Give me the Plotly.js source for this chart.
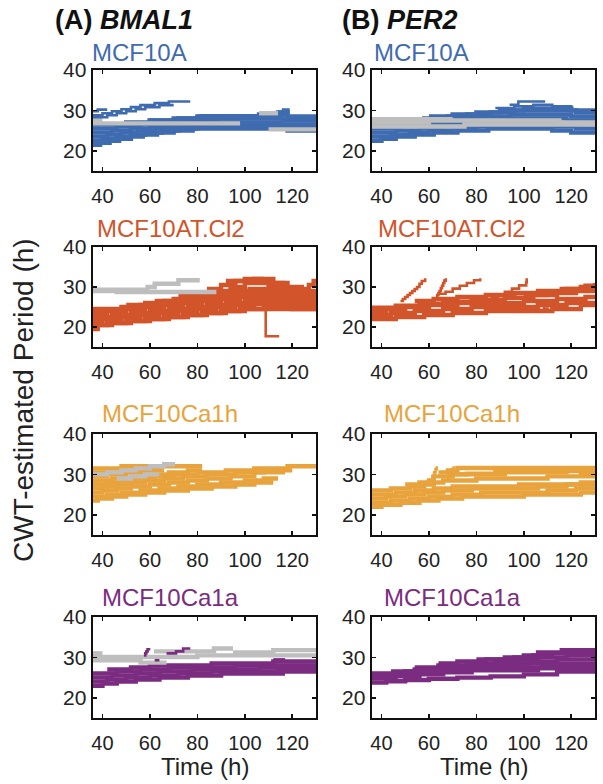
<!DOCTYPE html>
<html>
<head>
<meta charset="utf-8">
<script src="https://cdn.plot.ly/plotly-3.0.1.min.js"></script>
<style>html,body{margin:0;padding:0;background:#fff}#chart{width:603px;height:784px}</style>
</head>
<body>
<div id="chart"></div>
<script>
// ---------------- DATA (time in h, CWT-estimated period in h) ----------------
const genes = ["BMAL1", "PER2"];
const cellLines = ["MCF10A", "MCF10AT.Cl2", "MCF10Ca1h", "MCF10Ca1a"];
const xTicks = [40, 60, 80, 100, 120];
const yTicks = [20, 30, 40];

// BMAL1 - MCF10A
const A1_t = [
  [36,39,43,47,52,57,63,70,78,108,118,130],
  [36,40,46,52,58,65,72,80,110,120,130],
  [36,42,48,55,62,70,78,90,112,130],
  [36,44,52,60,68,76,85,100,115,130],
  [36,46,56,66,76,88,100,116,130],
  [36,50,60,72,82,95,108,118,130],
  [59,70,80,95,106,114,118,130],
  [80,100,110,115,116.5,118]
];
const A1_p = [
  [21.5,22,22.5,23,23.5,24,24.5,25,25.5,25.5,25,25],
  [22.5,23,23.5,24,24.5,25,25.5,26,26,25.5,25.5],
  [23.5,24,24.5,25,25.5,26,26.5,26.5,26,26],
  [24.5,25,25.5,26,26.5,27,27,27,26.5,26.5],
  [25.5,26,26.5,27,27.5,28,28,27.5,27],
  [26.5,27,27.5,28,28.5,28.5,29,28,27.5],
  [27.5,28,28.5,28.5,29,29.5,28.5,28],
  [28.5,28.5,29,29.5,30,29.5]
];
const A1g_t = [[36,98],[106,114],[110,124,130],[36,40]];
const A1g_p = [[26.8,26.8],[29.3,29.3],[25.3,25.3,25.3],[27.6,27.6]];
const A1x_t = [[36,40,44,48,52,56,62,68,77],[36,42,46,50,54,58,64,70],[36,38,42]];
const A1x_p = [[28.8,29.3,29.8,30.3,30.8,31.3,31.8,32.2,32.2],[28.3,28.8,29.3,29.8,30.3,30.8,31.3,31.3],[29.8,30.2,30.2]];

// PER2 - MCF10A
const B1_t = [
  [36,40,46,54,62,72,85,100,112,120,130],
  [36,44,52,60,70,80,95,110,122,130],
  [36,46,56,66,76,88,100,115,130],
  [36,48,58,68,78,90,102,118,130],
  [36,50,62,72,82,94,106,120,130],
  [49,58,68,76,86,96,108,122,130],
  [60,70,80,90,100,110,120,130]
];
const B1_p = [
  [22.5,23,23.5,24,24.5,25,25.5,25.5,25,24.5,24],
  [23.5,24,24.5,25,25.5,26,26,26,25.5,25],
  [24.5,25,25.5,26,26.5,27,27,26.5,26.5],
  [25.5,26,26.5,27,27.5,28,28,27.5,27.5],
  [26.5,27,27.5,28,28.5,29,29,28.5,28],
  [27.5,28,28.5,29,29.5,30,30,29.5,29],
  [28.5,29,29.5,30,30.5,30.5,30,29.5]
];
const B1g_t = [[36,55,75,100,130],[36,60,90,115,130],[36,50,70]];
const B1g_p = [[26,26,26.5,26.5,26.5],[27,27.5,27.5,27,27],[27.8,27.8,27.8]];
const B1x_t = [[94,97.7,109],[88,96,104,112,120]];
const B1x_p = [[31.4,32.2,32.2],[30.6,31,31.4,31,30.6]];

// BMAL1 - MCF10AT.Cl2
const A2_t = [
  [36,38,44,52,60,68,76,84,92,100,130],
  [36,42,50,58,66,74,82,90,98,108,120,130],
  [36,40,48,56,64,72,80,88,96,104,114,130],
  [36,44,52,60,68,76,84,92,100,110,120,130],
  [36,42,50,58,66,74,82,90,98,106,118,130],
  [36,48,56,64,72,80,88,96,104,112,122,130],
  [50,58,66,74,82,90,98,106,114,124,130],
  [62,70,78,86,94,102,110,118,130],
  [72,80,88,94,100,108,116,124],
  [84,90,96,104,112,118],
  [92,100,108],
  [118,122,125,127,129,130]
];
const A2_p = [
  [19.5,20.5,21,21.5,22,22.5,23,23.5,24,24.5,24.5],
  [20.5,21,21.5,22,22.5,23,23.5,24,24.5,25,24.5,24.5],
  [21.5,22,22.5,23,23.5,24,24.5,25,25.5,26,25.5,25.5],
  [22.5,23,23.5,24,24.5,25,25.5,26,26.5,26.5,26,26],
  [23.5,24,24.5,25,25.5,26,26.5,27,27.5,27.5,27,27],
  [24.5,25,25.5,26,26.5,27,27.5,28,28.5,28.5,28,28],
  [25.5,26,26.5,27,27.5,28,28.5,29,29,28,27.5],
  [26.5,27,27.5,28,29,29.5,30,29,28],
  [28,28.5,29,30,31,31,30,29],
  [29.5,30.5,31.5,32,31,30.5],
  [31.5,32,32],
  [28,28.5,29.5,30.5,31.5,31.5]
];
const A2g_t = [[36,59,62,72,81],[36,46,88]];
const A2g_p = [[29.3,30,30.8,31.7,31.7],[29,28.75,28.75]];
const A2x_t = [[100,108.8,108.8,114.5]];
const A2x_p = [[25.5,25.5,17.7,17.7]];

// PER2 - MCF10AT.Cl2
const B2_t = [
  [36,46,58,70,84,98,112,124,130],
  [36,44,54,66,78,92,106,118,130],
  [36,42,50,60,72,86,100,114,126,130],
  [36,46,56,66,78,92,104,114,122,130],
  [54,62,72,84,96,106,116,124,130],
  [100,110,118,126,130]
];
const B2_p = [
  [22,22.5,23,23.5,24,24,24.5,25.5,25.5],
  [23,23.5,24,24.5,25,25,25.5,26,26.5],
  [24,24.5,25,25.5,26,26,26.5,27,27.5,27.5],
  [24.8,25.3,25.8,26.3,26.8,27.3,28,28.5,29,29],
  [26.5,27,27.5,28,28.5,29,29.5,30,30.5],
  [28,28.8,29.5,30.3,31]
];
const B2g_t = [];
const B2g_p = [];
const B2x_t = [
  [48,49,50,51,52,53,54,55,56,57,58.4],
  [63,63.5,64,64.5,65,65.5,66,66.5,67.1],
  [64,67,70,73,76,79,81.6],
  [86,89,92,95,98,101,101.2],
  [105,107,108.5,110]
];
const B2x_p = [
  [26.5,27,27.5,28,28.5,29,29.5,30,30.8,31.5,32.2],
  [27.5,28,28.5,29,29.7,30.3,31,31.6,32.2],
  [28.3,28.8,29.6,30.3,31,31.7,32.2],
  [27.2,28,28.8,29.6,30.4,31.2,32.2],
  [26,25.3,24.6,24.2]
];

// BMAL1 - MCF10Ca1h
const A3_t = [
  [36,38,44,50,58,66,76,86,96,104,112],
  [36,42,48,56,64,72,80,90,100,108,114],
  [36,40,46,52,60,68,76,84,94,104,117],
  [36,40,46,52,58,66,74,84,96,108,120],
  [36,42,48,54,62,70,80,92,104,118,130],
  [36,44,52,60,68,76,82],
  [36,42,50,58,66],
  [36,46,56,64],
  [36,48,60,82]
];
const A3_p = [
  [23.5,24,24.5,25,25.5,26,26.5,27,27.5,28,28],
  [24.5,25,25.5,26,26.5,27,27.5,28,28.5,29,29],
  [25.5,26,26.5,27,27.5,28,28.5,29,29.5,30.5,30.5],
  [26.5,27,27.5,28,28.5,29,29.5,30,30.5,31,31],
  [27.5,28,28.5,29,29.5,30,30.5,31,31.5,32,32],
  [28.5,29,29.5,30,30.5,31,31],
  [29.5,30,30.5,31,31],
  [30.5,31,31.5,31.5],
  [31.5,32,32,32]
];
const A3g_t = [[36,42,48,54,60,66,70.6],[46,52,58,64]];
const A3g_p = [[30,30.5,31,31.5,32,32.5,32.5],[29,29.5,30,30]];
const A3x_t = [];
const A3x_p = [];

// PER2 - MCF10Ca1h
const B3_t = [
  [36,40,48,56,64,74,86,100,114,124,130],
  [36,44,52,60,70,82,96,110,122,130],
  [36,42,50,58,66,78,92,106,118,130],
  [36,46,54,62,70,84,98,112,124,130],
  [36,44,52,58,62,66,80,96,110,122,130],
  [50,56,60,62,70,80,92,106,118,130],
  [64,68,72,80,96,110,124,130],
  [68,76,88,100,112,124,130]
];
const B3_p = [
  [22,22.5,23,23.5,24,24.5,24.5,25,25,25.5,25.5],
  [23,23.5,24,24.5,25,25.5,25.5,26,26.5,26.5],
  [24,24.5,25,25.5,26,26.5,26.5,27,27.5,27.5],
  [25,25.5,26,26.5,27,27,27.5,27.5,28,28.5],
  [26,26.5,27,27.5,28,28.5,29,29,29.5,29.5,29.5],
  [27.5,28,28.5,29.5,30,30,30.5,30.5,31,31],
  [30.5,31,31.6,31.6,31.6,31.6,31.6,31.6],
  [30,30.2,30.8,30.8,30.8,30.2,30.2]
];
const B3g_t = [];
const B3g_p = [];
const B3x_t = [[60,60.8,61.5,62.2,62.8,63.3],[67.6,68.3,69,69.7,70.4]];
const B3x_p = [[27.5,28.5,29.5,30.5,31.3,32],[29.1,29.8,30.6,31.3,32]];

// BMAL1 - MCF10Ca1a
const A4_t = [
  [36,40,46,54,64,76,90,104,116,130],
  [36,42,50,60,72,86,100,114,130],
  [36,44,54,64,78,92,106,120,130],
  [36,46,56,68,82,96,110,124,130],
  [42,52,60,72,86,100,112,130]
];
const A4_p = [
  [23,23.5,24,24.5,25,25.5,26,26,26.5,26.5],
  [24,24.5,25,25.5,26,26.5,26.5,27,27],
  [25,25.5,26,26.5,27,27,27.5,27.5,27.5],
  [26,26.5,27,27.5,27.5,28,28,28,28],
  [27,27.5,28,28,28.5,28.5,29,28.5]
];
const A4g_t = [[36,56,67],[36,60,80,100,130],[36,40],[61.7,87,95],[95,112,130]];
const A4g_p = [[29.3,28.7,28.7],[30.1,30.1,30.5,30.5,30.5],[31,31],[31.5,32.2,32.2],[31.2,31.8,31.8]];
const A4x_t = [[57.5,58,58.5,59,59.6],[62,64],[67,70,71,73,74,77],[112,117]];
const A4x_p = [[30.5,31,31.5,32,32.3],[29.3,29.3],[31,31,31.5,31.5,32.2,32.2],[29.5,29.5]];

// PER2 - MCF10Ca1a
const B4_t = [
  [36,42,50,60,72,86,100,114,130],
  [36,46,56,66,78,92,106,120,130],
  [36,48,58,70,82,96,108,122,130],
  [36,50,62,74,86,98,110,124,130],
  [44,54,66,78,90,102,114,126,130],
  [54,64,76,88,98,106,118,130],
  [64,72,84,96,104,112,124,130],
  [80,92,100,106,116,126,130]
];
const B4_p = [
  [23.8,24.1,24.4,24.7,25,25.3,25.8,26.5,26.5],
  [24.8,25.3,25.8,26.3,26.8,26.8,27.3,27.3,27.3],
  [25.5,26,26.5,27,27.5,27.5,28,28,28],
  [26,26.5,27,27.5,28,28.5,28.5,28.5,28.5],
  [26.5,27,27.5,28,28.5,29,29.5,29.5,29.5],
  [27.5,28,28.5,29,29.5,30,30.5,30.5],
  [28.5,29,29.5,30,30.5,31,31,31],
  [29.5,30,30.5,31.2,31.8,31.8,31.8]
];
const B4g_t = [];
const B4g_p = [];
const B4x_t = [];
const B4x_p = [];

// ---------------- STYLE ----------------
const lineColors = ["#3F6BB0", "#D2542A", "#E8A33C", "#7B2C80"];
const grayColor = "#BEBEBE";
const FONT = "'Liberation Sans', Arial, Helvetica, sans-serif";
const W = 603, H = 784;
const colPx = [[93, 316], [372, 595]];
const rowPx = [[70, 171], [247, 347], [434, 535], [617, 718]];
const LW = 4.4, LW_THIN = 2.6;

const panels = [
  [[A1_t, A1_p, A1g_t, A1g_p, A1x_t, A1x_p], [B1_t, B1_p, B1g_t, B1g_p, B1x_t, B1x_p]],
  [[A2_t, A2_p, A2g_t, A2g_p, A2x_t, A2x_p], [B2_t, B2_p, B2g_t, B2g_p, B2x_t, B2x_p]],
  [[A3_t, A3_p, A3g_t, A3g_p, A3x_t, A3x_p], [B3_t, B3_p, B3g_t, B3g_p, B3x_t, B3x_p]],
  [[A4_t, A4_p, A4g_t, A4g_p, A4x_t, A4x_p], [B4_t, B4_p, B4g_t, B4g_p, B4x_t, B4x_p]]
];

const traces = [];
const layout = {
  width: W, height: H,
  margin: {l: 0, r: 0, t: 0, b: 0},
  paper_bgcolor: "#fff", plot_bgcolor: "#fff",
  showlegend: false,
  font: {family: FONT, color: "#222"},
  annotations: []
};

function addLines(ts, ps, xa, ya, color, width) {
  for (let i = 0; i < ts.length; i++) {
    traces.push({
      type: "scatter", mode: "lines", x: ts[i], y: ps[i],
      xaxis: xa, yaxis: ya, hoverinfo: "skip",
      line: {color: color, width: width, shape: "hv"}
    });
  }
}

for (let r = 0; r < 4; r++) {
  for (let c = 0; c < 2; c++) {
    const idx = r * 2 + c + 1;
    const sfx = idx === 1 ? "" : String(idx);
    const xa = "x" + sfx, ya = "y" + sfx;
    const [mt, mp, gt, gp, et, ep] = panels[r][c];
    addLines(mt, mp, xa, ya, lineColors[r], LW);
    addLines(gt, gp, xa, ya, grayColor, LW);
    addLines(et, ep, xa, ya, lineColors[r], LW_THIN);
    const axBase = {
      showgrid: false, zeroline: false, showline: true, mirror: "ticks",
      linecolor: "#111", linewidth: 2.4, ticks: "inside", ticklen: 4,
      tickwidth: 1.6, tickcolor: "#111"
    };
    layout["xaxis" + sfx] = Object.assign({}, axBase, {
      domain: [colPx[c][0] / W, colPx[c][1] / W],
      anchor: ya, range: [36, 130], tickvals: xTicks,
      ticktext: xTicks.map(String), ticklabelstandoff: 6,
      tickfont: {family: FONT, size: 20, color: "#222"}
    });
    layout["yaxis" + sfx] = Object.assign({}, axBase, {
      domain: [1 - rowPx[r][1] / H, 1 - rowPx[r][0] / H],
      anchor: xa, range: [15, 40], tickvals: yTicks,
      ticktext: yTicks.map(String),
      tickfont: {family: FONT, size: 21, color: "#222"}
    });
  }
}

// subplot titles (cell lines)
const titleLeft = [[90, 372], [95, 376], [100, 382], [100, 382]];
const titleY = [52, 229, 413, 597];
for (let r = 0; r < 4; r++) {
  for (let c = 0; c < 2; c++) {
    layout.annotations.push({
      text: cellLines[r], xref: "paper", yref: "paper",
      x: titleLeft[r][c] / W, y: 1 - titleY[r] / H,
      xanchor: "left", yanchor: "middle", showarrow: false,
      font: {family: FONT, size: 24, color: lineColors[r]}
    });
  }
}
// column headers and x titles
const headerLeft = [53, 340];
const headerLetters = ["(A)", "(B)"];
for (let c = 0; c < 2; c++) {
  layout.annotations.push({
    text: "<b>" + headerLetters[c] + " <i>" + genes[c] + "</i></b>",
    xref: "paper", yref: "paper", x: headerLeft[c] / W, y: 1 - 20 / H,
    xanchor: "left", yanchor: "middle", showarrow: false,
    font: {family: FONT, size: 27, color: "#111"}
  });
  layout.annotations.push({
    text: "Time (h)", xref: "paper", yref: "paper",
    x: (colPx[c][0] + colPx[c][1]) / 2 / W, y: 1 - 766 / H,
    xanchor: "center", yanchor: "middle", showarrow: false,
    font: {family: FONT, size: 24, color: "#222"}
  });
}
// shared y label
layout.annotations.push({
  text: "CWT-estimated Period (h)", xref: "paper", yref: "paper",
  x: 23 / W, y: 1 - 400 / H, textangle: -90,
  xanchor: "center", yanchor: "middle", showarrow: false,
  font: {family: FONT, size: 28, color: "#222"}
});

Plotly.newPlot("chart", traces, layout, {staticPlot: true, displayModeBar: false});
</script>
</body>
</html>
